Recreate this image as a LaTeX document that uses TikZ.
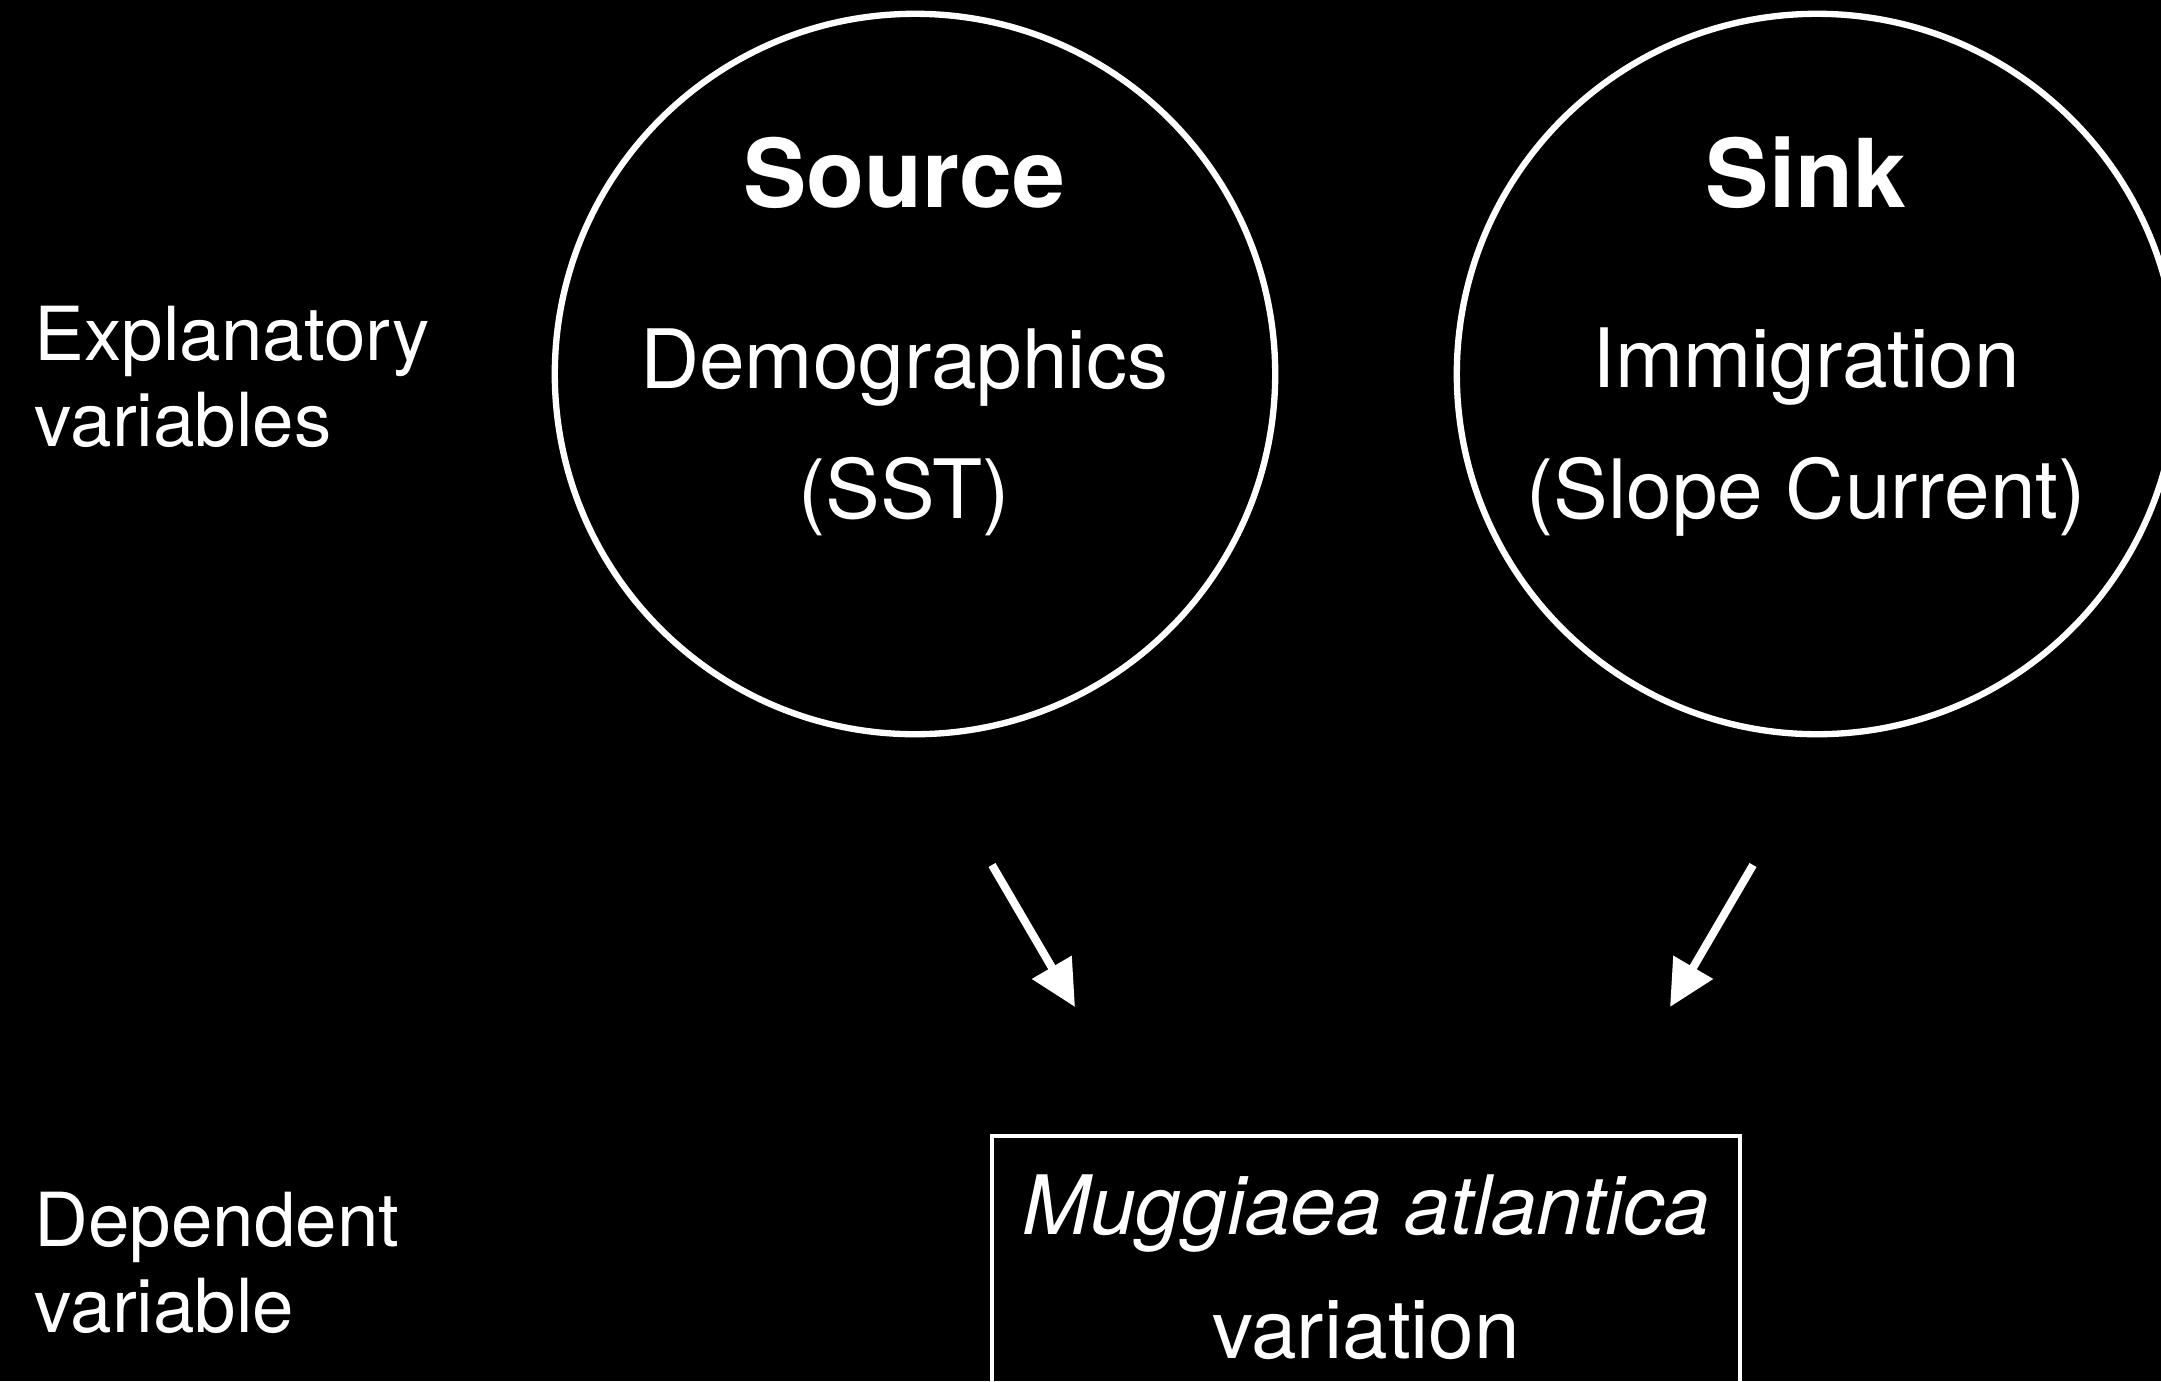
\documentclass[tikz,border=0pt]{standalone}
\usepackage{fontspec}
\setmainfont{TeX Gyre Heros}
\setsansfont{TeX Gyre Heros}
\usetikzlibrary{positioning, arrows.meta}
\tikzset{
  every node/.style={font=\sffamily, text=white},
  ring/.style={draw=white, circle, line width=1.8pt, minimum size=7.2cm, inner sep=0pt},
  ttl/.style={font=\sffamily\bfseries\fontsize{27}{32}\selectfont},
  lbl/.style={font=\sffamily\fontsize{23.3}{37}\selectfont, align=center},
  side/.style={font=\sffamily\fontsize{21.2}{24.5}\selectfont, align=left, anchor=west, inner sep=0pt},
  resp/.style={draw=white, line width=1.2pt, minimum width=7.48cm, minimum height=2.62cm,
               anchor=north, inner sep=0pt, font=\sffamily\fontsize{23.3}{35}\selectfont, align=center},
  arr/.style={-{Triangle[length=4.6mm, width=4.4mm]}, line width=2.3pt, white},
}

\begin{document}
\begin{tikzpicture}[x=0.01cm, y=-0.01cm]
  \path[use as bounding box, fill=black] (0,0) rectangle (2161,1381);
  \begin{scope}
  \clip (0,0) rectangle (2161,1381);
  % explanatory side
  \node[ring] (source) at (915,374) {};
  \node[ring] (sink) at (1817,374) {};
  \node[ttl] (srcTtl) at (904,173) {Source};
  \node[ttl] (snkTtl) at (1806,173) {Sink};
  \node[lbl] (srcLbl) at (904,432) {Demographics\\(SST)};
  \node[lbl] (snkLbl) at (1806,432) {Immigration\\(Slope Current)};
  % dependent side
  \node[resp] (resp) at (1366,1134) {\textit{Muggiaea atlantica}\\variation};
  \node[side] (expl) at (34,377) {Explanatory\\variables};
  \node[side] (dep) at (34,1263) {Dependent\\variable};
  \coordinate (srcTail) at (992,865);
  \coordinate (srcTip) at (1075,1007);
  \coordinate (snkTail) at (1753,865);
  \coordinate (snkTip) at (1670,1007);
  \draw[arr] (srcTail) -- (srcTip);
  \draw[arr] (snkTail) -- (snkTip);
  \end{scope}
\end{tikzpicture}
\end{document}
